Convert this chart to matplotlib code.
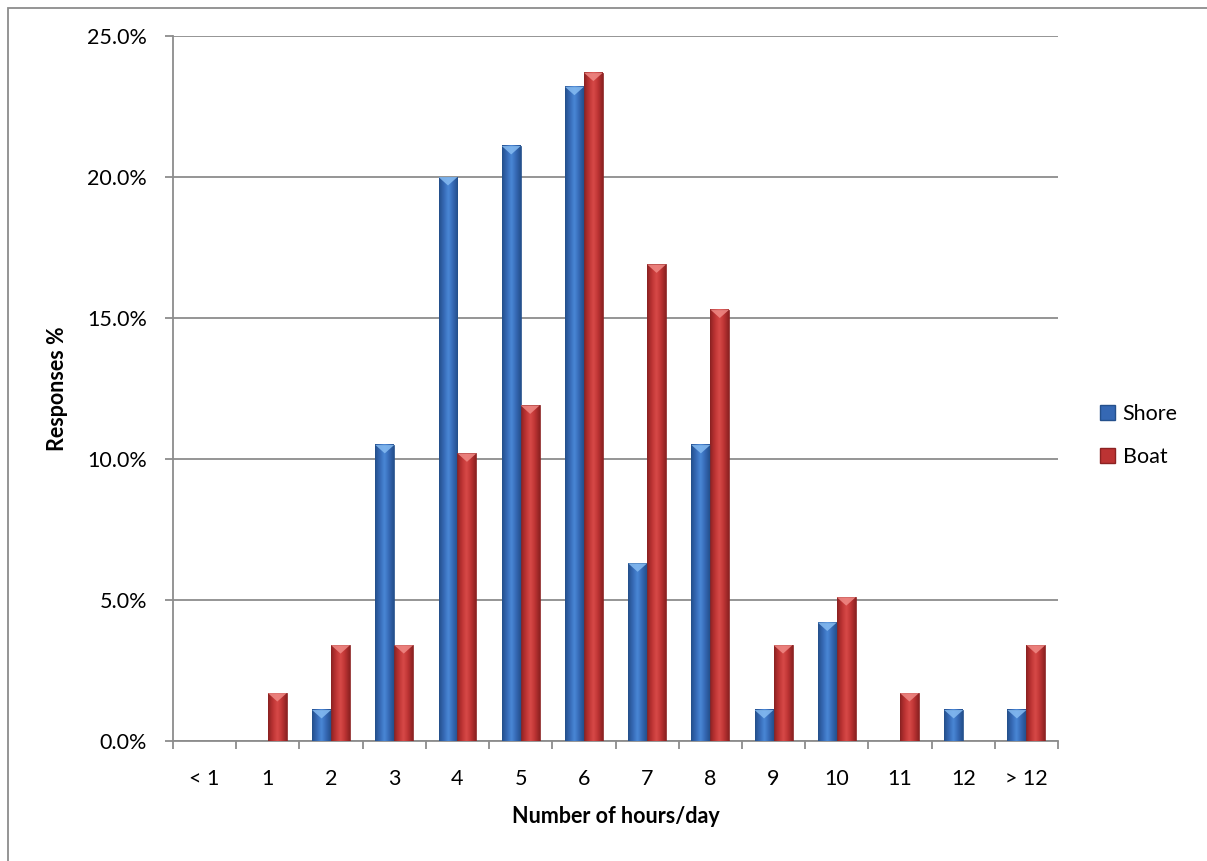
import matplotlib
matplotlib.use("Agg")
import matplotlib.pyplot as plt
import numpy as np
from matplotlib.patches import Polygon, Rectangle
from matplotlib.colors import LinearSegmentedColormap

plt.rcParams['font.family'] = ['Lato', 'DejaVu Sans']

# Daily hours, share of responses per group (%)
categories = ['< 1', '1', '2', '3', '4', '5', '6', '7', '8', '9', '10', '11', '12', '> 12']
shore = [0.0, 0.0, 1.1, 10.5, 20.0, 21.1, 23.2, 6.3, 10.5, 1.1, 4.2, 0.0, 1.1, 1.1]
boat = [0.0, 1.7, 3.4, 3.4, 10.2, 11.9, 23.7, 16.9, 15.3, 3.4, 5.1, 1.7, 0.0, 3.4]
series_names = ['Shore', 'Boat']

# colours: (dark edge, mid, light centre, bevel tip)
styles = {
    'Shore': ('#24508c', '#3568b4', '#4a88d6', '#86bcf2'),
    'Boat': ('#8c2222', '#bc3333', '#d84a48', '#f08a86'),
}

FS = 15.5
GRID = '#8c8c8c'

fig = plt.figure(figsize=(12.07, 8.61), dpi=100)
ax = fig.add_axes([173 / 1207, 1 - 741 / 861, 885 / 1207, 705 / 861])

# outer chart frame
fig.patches.append(Rectangle((8 / 1207, -0.05), 1.5, 1 - 8 / 861 + 0.05,
                             transform=fig.transFigure, fill=False,
                             edgecolor=GRID, linewidth=1.3))

x = np.arange(len(categories))
bw = 0.3
bevel = 0.3  # height of the bevel tip, in %

def draw_bar(x0, h, name):
    dark, mid, light, tip = styles[name]
    if h <= 0:
        return
    cmap = LinearSegmentedColormap.from_list(name, [dark, mid, light, mid, dark])
    grad = np.linspace(0, 1, 64).reshape(1, -1)
    ax.imshow(grad, cmap=cmap, extent=(x0, x0 + bw, 0, h), aspect='auto',
              zorder=3, interpolation='bicubic')
    ax.add_patch(Rectangle((x0, 0), bw, h, fill=False, edgecolor=dark,
                           linewidth=0.6, zorder=4))
    d = min(bevel, h)
    ax.add_patch(Polygon([(x0, h), (x0 + bw, h), (x0 + bw / 2, h - d)],
                         closed=True, facecolor=tip, edgecolor='none',
                         alpha=0.85, zorder=4))

for xi, s, b in zip(x, shore, boat):
    draw_bar(xi - bw, s, 'Shore')
    draw_bar(xi, b, 'Boat')

ax.set_xlim(-0.5, len(categories) - 0.5)
ax.set_ylim(0, 25)
ax.set_yticks(np.arange(0, 25.1, 5))
ax.set_yticklabels([f'{v:.1f}%' for v in np.arange(0, 25.1, 5)])
ax.set_xticks(x)
ax.set_xticklabels(categories)
ax.set_xticks(np.arange(-0.5, len(categories)), minor=True)
ax.tick_params(axis='x', which='major', length=0, pad=20, labelsize=FS)
ax.tick_params(axis='x', which='minor', length=5.8, color=GRID, width=1.3)
ax.tick_params(axis='y', length=5.8, color=GRID, width=1.3, pad=13,
               labelsize=FS)

ax.grid(axis='y', color=GRID, linewidth=1.3, zorder=0)
ax.set_axisbelow(True)
for side in ['top', 'right']:
    ax.spines[side].set_visible(False)
for side in ['left', 'bottom']:
    ax.spines[side].set_color(GRID)
    ax.spines[side].set_linewidth(1.3)

ax.set_ylabel('Responses %', fontsize=FS, fontweight='bold')
ax.yaxis.set_label_coords((68 - 173) / 885, 0.5)
ax.set_xlabel('Number of hours/day', fontsize=FS, fontweight='bold')
ax.xaxis.set_label_coords(0.5, (741 - 806) / 705)

handles = [Rectangle((0, 0), 1, 1, facecolor=styles[n][1], edgecolor=styles[n][0])
           for n in series_names]
fig.legend(handles, series_names, loc='center left',
           bbox_to_anchor=(1100 / 1207, 1 - 435.5 / 861),
           frameon=False, fontsize=FS, borderpad=0, borderaxespad=0,
           handlelength=0.7, handleheight=0.7,
           handletextpad=0.35, labelspacing=1.1)

fig.savefig('out.png', dpi=100)
